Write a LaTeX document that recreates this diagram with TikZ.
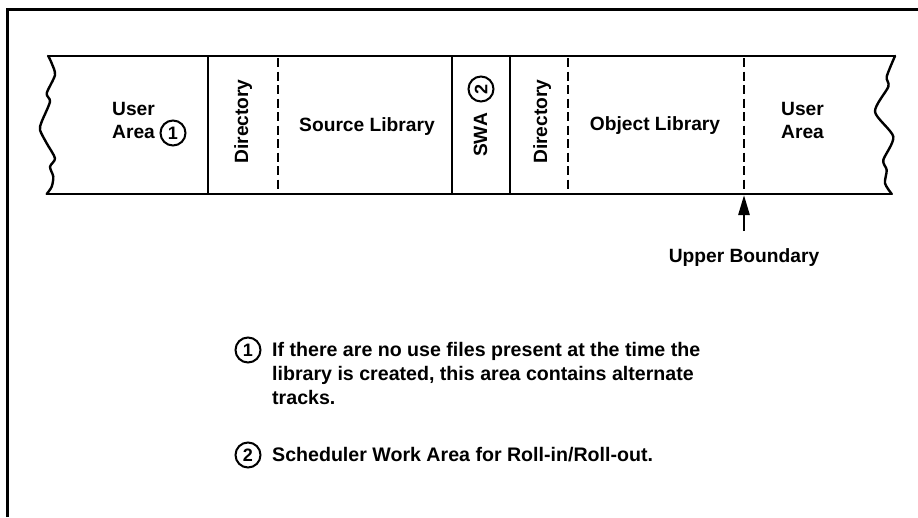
\documentclass[tikz,border=0pt]{standalone}
\usepackage{fontspec}
\setmainfont{Liberation Sans}
\usetikzlibrary{arrows.meta}
\begin{document}
\begin{tikzpicture}[x=1pt,y=-1pt,
  frame/.style={line width=3pt},
  band/.style={line width=2.4pt, line join=round, line cap=round},
  solidsep/.style={line width=2pt},
  dashsep/.style={line width=2pt, dash pattern=on 9pt off 4.5pt},
  lbl/.style={font=\fontsize{19.2}{24}\selectfont\bfseries, inner sep=0pt},
  note/.style={font=\fontsize{19.6}{24}\selectfont\bfseries, inner sep=0pt},
  num/.style={circle, draw, line width=2pt, minimum size=25pt, inner sep=0pt, font=\fontsize{18}{20}\selectfont\bfseries},
  arr/.style={line width=2.6pt, -{Triangle[length=20pt,width=11pt]}}
]
\useasboundingbox (0,0) rectangle (918,517);
% frame
\draw[frame] (7,517) -- (7,9) -- (918,9);
% band outline
\draw[band] (48,56) -- (895,56);
\draw[band] (46.7,194) -- (891.7,194);
\draw[band] plot[smooth, tension=0.45] coordinates {(48.3,56) (51.7,63.3) (55,75) (46.7,93.3) (50,101.7) (41.7,121.7) (40,130) (46.7,143.3) (55,158.3) (50,166.7) (53.3,176.7) (51.7,186.7) (46.7,194)};
\draw[band] plot[smooth, tension=0.45] coordinates {(895,56) (886.7,76.7) (888.3,86.7) (875,111.7) (893.3,136.7) (883.3,160) (886.7,170) (885,183.3) (891.7,194)};
% dividers
\draw[solidsep] (208,56) -- (208,194);
\draw[dashsep] (278,58) -- (278,194);
\draw[solidsep] (452,56) -- (452,194);
\draw[solidsep] (510,56) -- (510,194);
\draw[dashsep] (568,58) -- (568,194);
\draw[dashsep] (744,58) -- (744,194);
% labels in band
\node[lbl, anchor=base west] (ua1) at (112,115) {User};
\node[lbl, anchor=base west] (ua2) at (112,138) {Area};
\node[num] (c1) at (173,133) {1};
\node[lbl, anchor=base, rotate=90] (dir1) at (248,121.5) {Directory};
\node[lbl, anchor=base] (src) at (367,131) {Source Library};
\node[lbl, anchor=base, rotate=90] (swa) at (487,135) {SWA};
\node[num, rotate=90] (c2) at (481,89) {2};
\node[lbl, anchor=base, rotate=90] (dir2) at (547,121.7) {Directory};
\node[lbl, anchor=base] (obj) at (655,130) {Object Library};
\node[lbl, anchor=base west] (ub1) at (781,115) {User};
\node[lbl, anchor=base west] (ub2) at (781,138) {Area};
% upper boundary
\coordinate (ubtail) at (744,231);
\coordinate (ubtip) at (744,195);
\draw[arr] (ubtail) -- (ubtip);
\node[lbl, anchor=base] (ubl) at (744,262) {Upper Boundary};
% footnotes
\node[num] (f1) at (248,350) {1};
\node[note, anchor=base west] (f1a) at (272,356.5) {If there are no use files present at the time the};
\node[note, anchor=base west] (f1b) at (272,380.5) {library is created, this area contains alternate};
\node[note, anchor=base west] (f1c) at (272,404.5) {tracks.};
\node[num] (f2) at (248,455) {2};
\node[note, anchor=base west] (f2a) at (272,461.5) {Scheduler Work Area for Roll-in/Roll-out.};
\end{tikzpicture}
\end{document}
